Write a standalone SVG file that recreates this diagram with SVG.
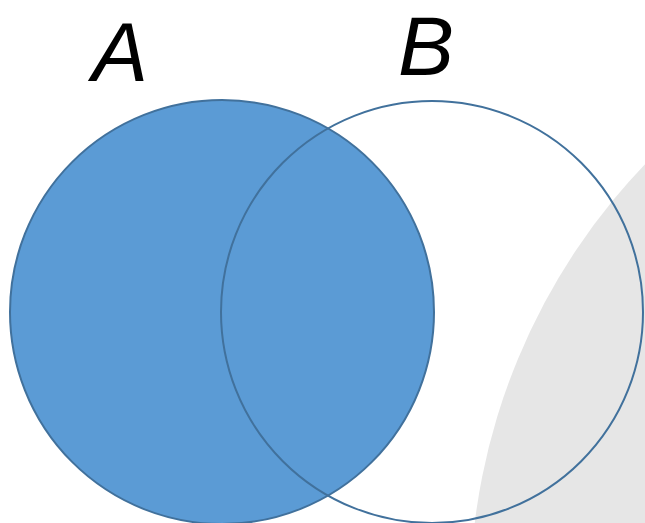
<svg xmlns="http://www.w3.org/2000/svg" width="645" height="523" viewBox="0 0 645 523">
<style>
.lbl{font-family:"Liberation Sans",Arial,sans-serif;font-style:italic;font-size:84px;fill:#000}
.set{stroke:#41719c;stroke-width:2}
</style>
<rect width="645" height="523" fill="#fff"/>
<circle id="bg" cx="1100" cy="600" r="630" fill="#e6e6e6"/>
<g id="setA">
<circle cx="222" cy="312" r="212" class="set" fill="#5b9bd5"/>
<text class="lbl" x="92" y="81">A</text>
</g>
<g id="setB">
<circle cx="432" cy="312" r="211" class="set" fill="none"/>
<text class="lbl" x="398" y="75">B</text>
</g>
<g id="connectors"/>
</svg>
